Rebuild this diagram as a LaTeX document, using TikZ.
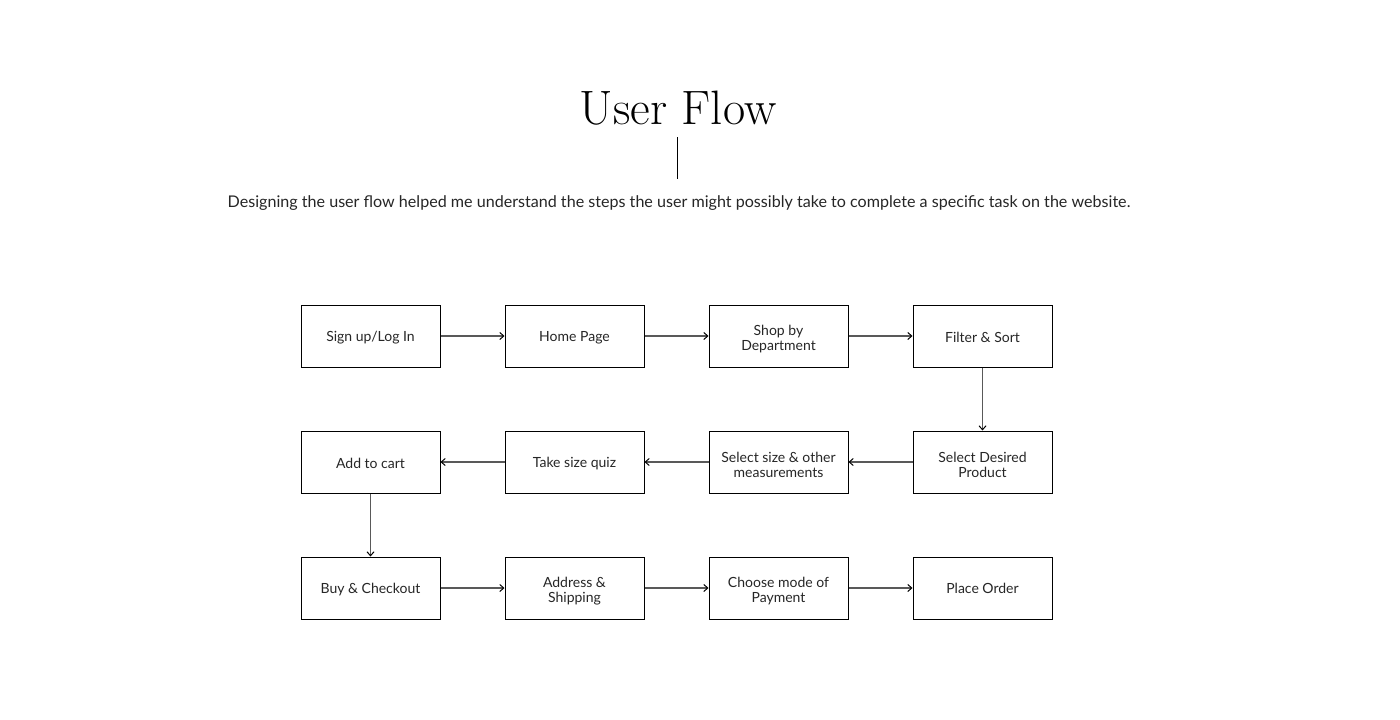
\documentclass[tikz,border=0pt]{standalone}
\usepackage{fontspec}
\setmainfont{Lato}
\usetikzlibrary{arrows.meta}
\newcommand\stepnode[4]{%
  \node[stepbox] (#1) at (#2) {};
  \node[steptext] (#1t) at ([yshift=#3]#1.center) {#4};}
\begin{document}
\begin{tikzpicture}[x=1pt,y=-1pt,
  stepbox/.style={draw=black, line width=1pt, minimum width=139pt, minimum height=62pt},
  steptext/.style={align=center, inner sep=0pt, font=\fontsize{14}{15}\selectfont, text=black!85},
  flowarrow/.style={draw=black!65, line width=1.4pt, -{Straight Barb[length=4pt,width=7pt,line width=1pt,black]}}
]
\useasboundingbox (0,0) rectangle (1400,720);
\fill[white] (0,0) rectangle (1400,720);
\node (title) at (678,108) {\fontspec{Latin Modern Roman}\fontsize{48.3}{50}\selectfont User Flow};
\coordinate (lt) at (677.5,137);
\coordinate (lb) at (677.5,179);
\draw[line width=1pt] (lt) -- (lb);
\node[text=black!85, font=\fontsize{16.1}{18}\selectfont] (sub) at (679,203) {Designing the user flow helped me understand the steps the user might possibly take to complete a specific task on the website.};

\stepnode{a1}{370.5,336}{-2pt}{Sign up/Log In}
\stepnode{a2}{574.5,336}{-2pt}{Home Page}
\stepnode{a3}{778.5,336}{-3pt}{Shop by\\Department}
\stepnode{a4}{982.5,336}{-1pt}{Filter \& Sort}
\stepnode{b1}{370.5,462}{-1pt}{Add to cart}
\stepnode{b2}{574.5,462}{-2pt}{Take size quiz}
\stepnode{b3}{778.5,462}{-3pt}{Select size \& other\\measurements}
\stepnode{b4}{982.5,462}{-3pt}{Select Desired\\Product}
\stepnode{c1}{370.5,588}{-2pt}{Buy \& Checkout}
\stepnode{c2}{574.5,588}{-3pt}{Address \&\\Shipping}
\stepnode{c3}{778.5,588}{-3pt}{Choose mode of\\Payment}
\stepnode{c4}{982.5,588}{0pt}{Place Order}

\draw[flowarrow] (a1) -- (a2);
\draw[flowarrow] (a2) -- (a3);
\draw[flowarrow] (a3) -- (a4);
\draw[flowarrow] (a4) -- (b4);
\draw[flowarrow] (b4) -- (b3);
\draw[flowarrow] (b3) -- (b2);
\draw[flowarrow] (b2) -- (b1);
\draw[flowarrow] (b1) -- (c1);
\draw[flowarrow] (c1) -- (c2);
\draw[flowarrow] (c2) -- (c3);
\draw[flowarrow] (c3) -- (c4);
\end{tikzpicture}
\end{document}
